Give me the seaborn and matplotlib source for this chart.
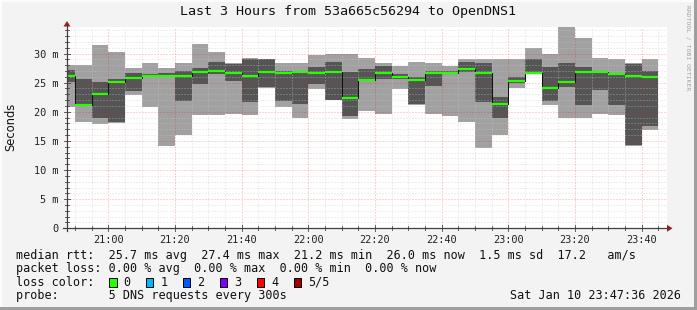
import numpy as np
import pandas as pd
import matplotlib
matplotlib.use("Agg")
import matplotlib.pyplot as plt
import seaborn as sns
from matplotlib.patches import Rectangle, Polygon
from matplotlib.lines import Line2D

# ---------------- data (ms) ----------------
bar_start = ["20:45", "20:50", "20:55", "21:00", "21:05", "21:10", "21:15", "21:20", "21:25",
             "21:30", "21:35", "21:40", "21:45", "21:50", "21:55", "22:00", "22:05", "22:10",
             "22:15", "22:20", "22:25", "22:30", "22:35", "22:40", "22:45", "22:50", "22:55",
             "23:00", "23:05", "23:10", "23:15", "23:20", "23:25", "23:30", "23:35", "23:40"]
rtt_min = [20.9, 18.3, 17.9, 18.0, 22.8, 20.9, 14.2, 16.0, 19.4, 19.4, 19.7, 19.4,
           24.1, 20.9, 19.0, 23.9, 22.0, 18.7, 20.1, 19.7, 23.9, 21.2, 19.7, 19.3,
           18.3, 13.8, 16.0, 24.1, 26.4, 21.2, 19.0, 19.0, 19.7, 19.4, 14.2, 16.8]
rtt_p2 = [25.1, 21.0, 18.9, 18.3, 23.5, 26.0, 26.0, 21.9, 24.7, 26.4, 25.3, 21.6,
          24.2, 21.9, 21.4, 24.8, 22.1, 19.3, 25.2, 25.7, 25.6, 21.3, 24.5, 26.4,
          26.8, 21.6, 19.0, 24.9, 26.5, 21.9, 24.2, 21.2, 23.8, 21.2, 14.3, 17.5]
rtt_median = [26.1, 21.2, 23.1, 25.1, 25.8, 26.1, 26.1, 26.1, 26.8, 27.0, 26.6, 26.1,
              26.8, 26.6, 26.8, 26.6, 26.8, 22.3, 25.4, 26.6, 26.0, 25.4, 26.6, 26.6,
              27.4, 26.6, 21.3, 25.2, 26.6, 24.0, 25.1, 26.8, 26.9, 26.5, 26.1, 26.0]
rtt_p4 = [27.2, 25.7, 25.1, 25.7, 26.7, 26.4, 26.7, 27.0, 27.6, 28.6, 28.2, 29.0,
          29.0, 27.0, 27.0, 27.6, 28.6, 26.9, 27.4, 27.9, 26.4, 26.0, 27.0, 27.0,
          28.6, 28.3, 22.6, 26.0, 29.0, 27.6, 28.3, 27.6, 27.0, 26.7, 28.2, 27.0]
rtt_max = [28.0, 28.0, 31.4, 30.3, 27.6, 28.3, 27.6, 28.3, 31.7, 30.3, 28.3, 29.3,
           29.1, 28.3, 28.3, 29.7, 30.0, 30.0, 29.3, 28.3, 27.9, 28.6, 28.3, 27.9,
           29.0, 29.0, 29.0, 29.0, 31.0, 30.0, 35.5, 32.6, 29.3, 29.0, 28.3, 29.0]

y_ticks = [0, 5, 10, 15, 20, 25, 30]
y_tick_labels = ["0", "5 m", "10 m", "15 m", "20 m", "25 m", "30 m"]
x_tick_labels = ["21:00", "21:20", "21:40", "22:00", "22:20", "22:40", "23:00", "23:20", "23:40"]

legend_lines = [
    "median rtt:  25.7 ms avg  27.4 ms max  21.2 ms min  26.0 ms now  1.5 ms sd  17.2   am/s",
    "packet loss: 0.00 % avg  0.00 % max  0.00 % min  0.00 % now",
    "loss color:",
    "probe:       5 DNS requests every 300s",
]
loss_labels = ["0", "1", "2", "3", "4", "5/5"]
loss_colors = ["#26ff00", "#00b8ff", "#0059ff", "#7e00ff", "#ff0000", "#a10000"]
title = "Last 3 Hours from 53a665c56294 to OpenDNS1"
timestamp = "Sat Jan 10 23:47:36 2026"

# ---------------- helpers ----------------
def to_min(s):
    h, m = s.split(":")
    return int(h) * 60 + int(m)

x0 = np.array([to_min(s) for s in bar_start], dtype=float)
df = pd.DataFrame({"start": x0, "mn": rtt_min, "p2": rtt_p2, "med": rtt_median,
                   "p4": rtt_p4, "mx": rtt_max})

W, H = 697, 310
fig = plt.figure(figsize=(W / 100, H / 100), dpi=100)
fig.patch.set_facecolor("#f3f3f3")

def fx(px):
    return px / W

def fy(py):
    return 1 - py / H

left_px, right_px = 67, 667
top_px, zero_px = 27.3, 228.3
ymax = 34.5
ax = fig.add_axes([fx(left_px), fy(zero_px), (right_px - left_px) / W, (zero_px - top_px) / H])
ax.set_facecolor("white")

xmin = to_min("20:47") + 36 / 60
xmax = xmin + 180
ax.set_xlim(xmin, xmax)
ax.set_ylim(0, ymax)

step = 5
ax.bar(df["start"], df["mx"] - df["mn"], bottom=df["mn"], width=step, align="edge",
       color="#a1a1a1", linewidth=0, antialiased=False, zorder=1)
ax.bar(df["start"], df["p4"] - df["p2"], bottom=df["p2"], width=step, align="edge",
       color="#555555", linewidth=0, antialiased=False, zorder=1.1)

# grid (drawn over the smoke)
for v in np.arange(1, 35, 1):
    if v % 5 == 0:
        ax.axhline(v, color=(1, 0, 0, 0.35), lw=0.72, ls=(0, (1, 2)), zorder=2)
    else:
        ax.axhline(v, color=(0.78, 0.78, 0.78, 0.6), lw=0.72, ls=(0, (1, 2)), zorder=2)
for t in np.arange(to_min("20:50"), xmax, 5):
    if t % 20 == 0:
        ax.axvline(t, color=(1, 0, 0, 0.35), lw=0.72, ls=(0, (1, 2)), zorder=2)
    else:
        ax.axvline(t, color=(0.78, 0.78, 0.78, 0.6), lw=0.72, ls=(0, (1, 2)), zorder=2)

# median: black step connectors + green segments
sns.lineplot(data=df, x="start", y="med", drawstyle="steps-post", color="#111111",
             lw=0.75, ax=ax, zorder=3, estimator=None, sort=False)
ax.hlines(df["med"], df["start"], df["start"] + step, color="#26ff00", lw=1.6, zorder=4)

for s in ax.spines.values():
    s.set_visible(False)
ax.set_xlabel("")
ax.set_ylabel("")
ax.set_xticks([to_min(s) for s in x_tick_labels])
ax.set_xticklabels(x_tick_labels, family="DejaVu Sans Mono", fontsize=7.4, color="#222222")
ax.set_yticks(y_ticks)
ax.set_yticklabels(y_tick_labels, family="DejaVu Sans Mono", fontsize=7.4, color="#222222")
ax.tick_params(axis="both", length=0, pad=6)
ax.tick_params(axis="x", pad=5)

# axes lines and arrows (figure coordinates)
axis_col = "#404040"
fig.add_artist(Line2D([fx(left_px), fx(left_px)], [fy(zero_px + 3), fy(26)],
                      color=axis_col, lw=0.9))
fig.add_artist(Line2D([fx(left_px - 4), fx(right_px)], [fy(zero_px), fy(zero_px)],
                      color=axis_col, lw=0.9))
fig.add_artist(Polygon([[fx(left_px - 3.5), fy(26.5)], [fx(left_px + 3.5), fy(26.5)],
                        [fx(left_px), fy(21)]], closed=True, color="#9b1c1c", lw=0))
fig.add_artist(Polygon([[fx(right_px), fy(zero_px - 3.5)], [fx(right_px), fy(zero_px + 3.5)],
                        [fx(right_px + 5.5), fy(zero_px)]], closed=True, color="#9b1c1c", lw=0))
# tick marks
for v in range(0, 35):
    yy = fy(zero_px - v * (zero_px - top_px) / ymax)
    ln = 3 if v % 5 == 0 else 2
    fig.add_artist(Line2D([fx(left_px - ln), fx(left_px + ln)], [yy, yy], color=axis_col, lw=0.6))
for t in np.arange(to_min("20:50"), xmax, 5):
    xx = fx(left_px + (t - xmin) * (right_px - left_px) / 180)
    ln = 3 if t % 20 == 0 else 2
    fig.add_artist(Line2D([xx, xx], [fy(zero_px - ln), fy(zero_px + ln)], color=axis_col, lw=0.6))

# texts
mono = "DejaVu Sans Mono"
fig.text(fx(348.5), fy(12), title, family=mono, fontsize=9.6, ha="center", va="center", color="#111111")
fig.text(fx(10.5), fy(127), "Seconds", family="DejaVu Sans", fontsize=8.3, rotation=90,
         ha="center", va="center", color="#111111")
fig.text(fx(687.5), fy(5), "RRDTOOL / TOBI OETIKER", family=mono, fontsize=4.6, rotation=270,
         ha="center", va="top", color="#a0a0a0")

line_y = [255, 268.5, 282, 295.5]
for txt, yy in zip(legend_lines, line_y):
    fig.text(fx(16.4), fy(yy), txt, family=mono, fontsize=8.5, ha="left", va="center", color="#111111")
fig.text(fx(681), fy(line_y[3]), timestamp, family=mono, fontsize=8.5, ha="right", va="center",
         color="#111111")

sq_x0, sq_dx = 109, 36.9
for i, (lab, col) in enumerate(zip(loss_labels, loss_colors)):
    sx = sq_x0 + i * sq_dx
    fig.add_artist(Rectangle((fx(sx), fy(line_y[2] + 4.5)), 7.5 / W, 9 / H, facecolor=col,
                             edgecolor="black", lw=0.7))
    fig.text(fx(sx + 14.5), fy(line_y[2]), lab, family=mono, fontsize=8.5, ha="left", va="center",
             color="#111111")

# frame
fig.add_artist(Rectangle((0, 0), 1, 3 / H, facecolor="#9e9e9e", lw=0))
fig.add_artist(Rectangle((1 - 3 / W, 0), 3 / W, 1, facecolor="#9e9e9e", lw=0))
fig.add_artist(Rectangle((0, 1 - 2 / H), 1 - 3 / W, 2 / H, facecolor="#fcfcfc", lw=0))
fig.add_artist(Rectangle((0, 3 / H), 2 / W, 1 - 3 / H, facecolor="#fcfcfc", lw=0))

fig.savefig("out.png", dpi=100, facecolor=fig.get_facecolor())
